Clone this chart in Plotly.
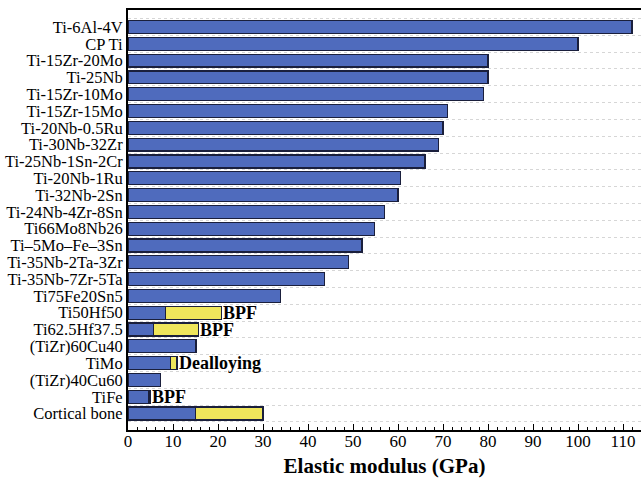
import plotly.graph_objects as go

materials = ["Ti-6Al-4V", "CP Ti", "Ti-15Zr-20Mo", "Ti-25Nb", "Ti-15Zr-10Mo", "Ti-15Zr-15Mo",
             "Ti-20Nb-0.5Ru", "Ti-30Nb-32Zr", "Ti-25Nb-1Sn-2Cr", "Ti-20Nb-1Ru", "Ti-32Nb-2Sn",
             "Ti-24Nb-4Zr-8Sn", "Ti66Mo8Nb26", "Ti\u20135Mo\u2013Fe\u20133Sn", "Ti-35Nb-2Ta-3Zr",
             "Ti-35Nb-7Zr-5Ta", "Ti75Fe20Sn5", "Ti50Hf50", "Ti62.5Hf37.5", "(TiZr)60Cu40",
             "TiMo", "(TiZr)40Cu60", "TiFe", "Cortical bone"]
modulus_low = [112, 100, 80, 80, 79, 71, 70, 69, 66, 60.5, 60, 57, 54.7, 52, 49, 43.7, 33.8,
               8.4, 5.6, 15.1, 9.5, 7.3, 4.5, 15]
modulus_high = [None] * 17 + [20.7, 15.6, None, 10.9, None, 4.9, 30]
notes = {"Ti50Hf50": "BPF", "Ti62.5Hf37.5": "BPF", "TiMo": "Dealloying", "TiFe": "BPF"}
x_ticks = [0, 10, 20, 30, 40, 50, 60, 70, 80, 90, 100, 110]

yellow_add = [(h - l) if h is not None else 0 for l, h in zip(modulus_low, modulus_high)]

SERIF = "Liberation Serif"

fig = go.Figure()
fig.add_trace(go.Bar(y=materials, x=modulus_low, orientation="h",
                     marker=dict(color="#4F6BBD", line=dict(color="#1a1f3c", width=1.2)),
                     showlegend=False))
fig.add_trace(go.Bar(y=materials, x=yellow_add, orientation="h",
                     marker=dict(color="#EFE65C", line=dict(color="#1a1f3c", width=1.2)),
                     showlegend=False))

for m, t in notes.items():
    i = materials.index(m)
    fig.add_annotation(x=modulus_high[i], y=m, text="<b>%s</b>" % t, showarrow=False,
                       xanchor="left", yanchor="middle", xshift=0,
                       font=dict(family=SERIF, size=18, color="black"))

fig.update_layout(
    width=641, height=495,
    margin=dict(l=128, r=0, t=10, b=65),
    paper_bgcolor="white", plot_bgcolor="white",
    barmode="stack", bargap=0.23,
    font=dict(family=SERIF, color="black"),
)
fig.update_xaxes(
    range=[0, 114], tickmode="array", tickvals=x_ticks, automargin=False,
    ticks="inside", ticklen=6, tickwidth=1.2, tickcolor="black", ticklabelstandoff=-5,
    minor=dict(ticks="inside", ticklen=3, tickwidth=1, tickcolor="black", dtick=2, showgrid=False),
    showline=True, linecolor="black", linewidth=2, mirror=True,
    showgrid=False, zeroline=False,
    tickfont=dict(family=SERIF, size=17, color="black"),
    title=dict(text="<b>Elastic modulus (GPa)</b>", standoff=8,
               font=dict(family=SERIF, size=21, color="black")),
)
fig.update_yaxes(
    categoryorder="array", categoryarray=materials, automargin=False,
    tickmode="array", tickvals=materials, ticktext=materials,
    range=[23.98, -1.01], tickson="boundaries", ticks="",
    showline=True, linecolor="black", linewidth=2,
    showgrid=True, gridcolor="#d6d6d6", griddash="dot", gridwidth=1,
    zeroline=False,
    tickfont=dict(family=SERIF, size=16.5, color="black"),
)

fig.write_html("out.html", config={"displayModeBar": False},
               post_script="document.body.style.margin='0';document.body.style.overflow='hidden';")
